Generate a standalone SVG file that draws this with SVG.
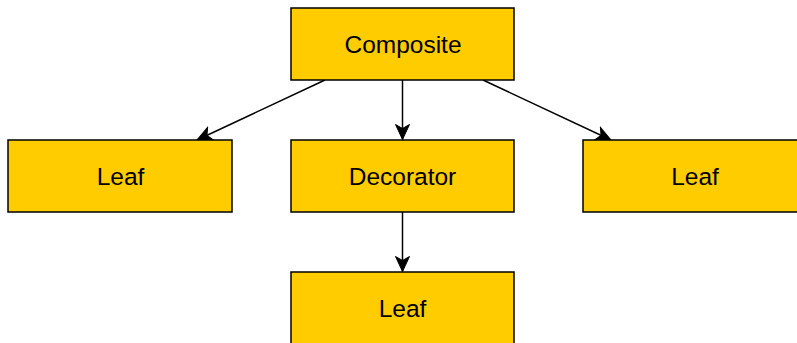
<svg xmlns="http://www.w3.org/2000/svg" width="797" height="343" viewBox="0 0 797 343">
  <style>
    .box { fill: #FFCC00; stroke: #000000; stroke-width: 1.5; }
    .lbl { font-family: "Liberation Sans", Arial, sans-serif; font-size: 24.5px; fill: #000000; text-anchor: middle; }
    .edge { fill: none; stroke: #000000; stroke-width: 1.5; }
  </style>
  <defs>
    <marker id="arrow" viewBox="-16 -8 17 16" refX="0" refY="0" markerWidth="17" markerHeight="16" markerUnits="userSpaceOnUse" orient="auto">
      <path d="M0,0 L-15,-7 L-11,0 L-15,7 Z" fill="#000000" stroke="#000000" stroke-width="1"/>
    </marker>
  </defs>
  <rect width="797" height="343" fill="#FFFFFF"/>
  <g id="connectors">
    <line class="edge" x1="325" y1="80" x2="197" y2="140" marker-end="url(#arrow)"/>
    <line class="edge" x1="402.5" y1="80" x2="402.5" y2="139.5" marker-end="url(#arrow)"/>
    <line class="edge" x1="483" y1="80" x2="611" y2="140" marker-end="url(#arrow)"/>
    <line class="edge" x1="402.5" y1="212" x2="402.5" y2="271.5" marker-end="url(#arrow)"/>
  </g>
  <g id="composite">
    <rect class="box" x="291" y="8" width="223" height="72"/>
    <text class="lbl" x="403" y="53">Composite</text>
  </g>
  <g id="leaf-left">
    <rect class="box" x="8" y="140" width="224" height="72"/>
    <text class="lbl" x="120.5" y="185">Leaf</text>
  </g>
  <g id="decorator">
    <rect class="box" x="291" y="140" width="223" height="72"/>
    <text class="lbl" x="402.5" y="185">Decorator</text>
  </g>
  <g id="leaf-right">
    <rect class="box" x="583" y="140" width="223" height="72"/>
    <text class="lbl" x="695" y="185">Leaf</text>
  </g>
  <g id="leaf-bottom">
    <rect class="box" x="291" y="272" width="223" height="72"/>
    <text class="lbl" x="402.5" y="317">Leaf</text>
  </g>
</svg>
